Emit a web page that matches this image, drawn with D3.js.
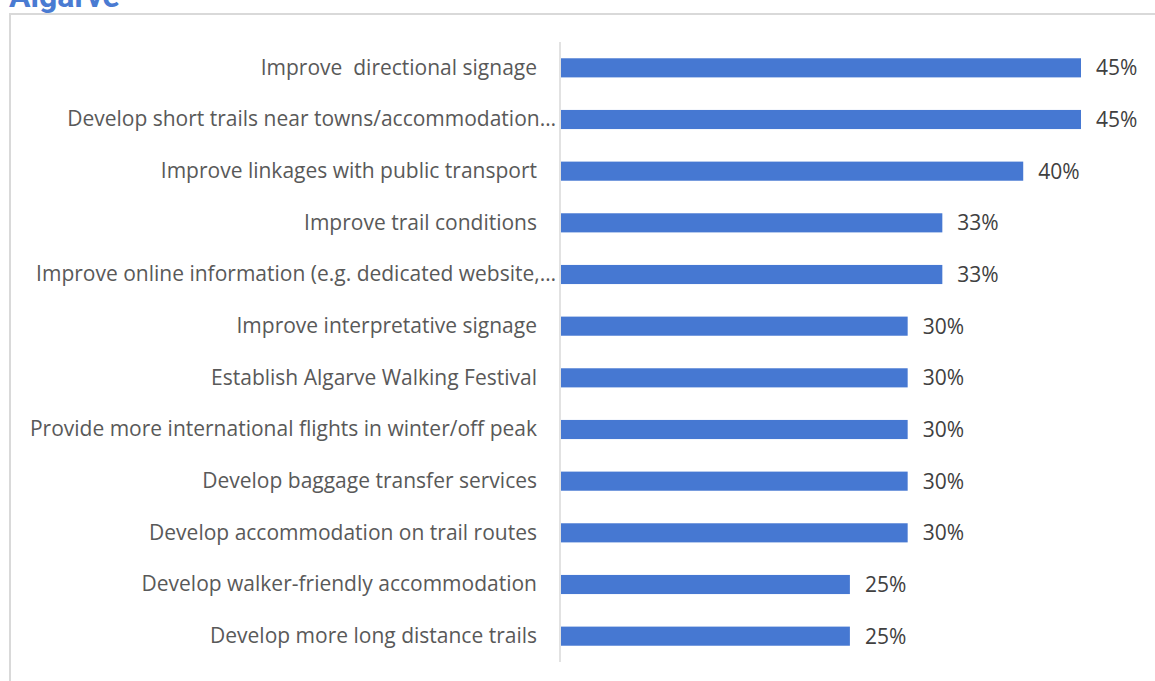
<!DOCTYPE html>
<html>
<head>
<meta charset="utf-8">
<script src="https://cdn.jsdelivr.net/npm/d3@7/dist/d3.min.js"></script>
<style>
  html, body { margin: 0; padding: 0; background: #ffffff; }
  svg { display: block; }
  text { white-space: pre; }
</style>
</head>
<body>
<svg id="chart" width="1155" height="681"></svg>
<script>
// Survey actions for walking tourism in the Algarve (share of respondents, %)
const categories = [
  "Improve  directional signage",
  "Develop short trails near towns/accommodation…",
  "Improve linkages with public transport",
  "Improve trail conditions",
  "Improve online information (e.g. dedicated website,…",
  "Improve interpretative signage",
  "Establish Algarve Walking Festival",
  "Provide more international flights in winter/off peak",
  "Develop baggage transfer services",
  "Develop accommodation on trail routes",
  "Develop walker-friendly accommodation",
  "Develop more long distance trails"
];
const values = [45, 45, 40, 33, 33, 30, 30, 30, 30, 30, 25, 25];
const valueLabels = values.map(v => v + "%");
const title = "Algarve";

const svg = d3.select("#chart");
const W = 1155, H = 681;

// panel frame (continues past the right and bottom edges)
svg.append("rect")
  .attr("x", 10).attr("y", 14)
  .attr("width", W + 20).attr("height", H + 20)
  .attr("fill", "none")
  .attr("stroke", "#d9d9d9")
  .attr("stroke-width", 2);

// heading, partly above the top edge
svg.append("text")
  .attr("x", 9).attr("y", 7)
  .attr("font-family", "Roboto, 'Open Sans', sans-serif")
  .attr("font-weight", 700)
  .attr("font-size", 32)
  .attr("fill", "#4a7bd2")
  .text(title);

const x = d3.scaleLinear().domain([0, 45]).range([561, 1081]);
const y = d3.scaleBand().domain(categories).range([42, 662]).paddingInner(0.63).paddingOuter(0.315);

const font = "'Open Sans', 'Noto Sans', sans-serif";
const fontSize = 21;

// bars
svg.append("g").selectAll("rect")
  .data(categories)
  .join("rect")
  .attr("x", x(0))
  .attr("y", d => y(d))
  .attr("width", (d, i) => x(values[i]) - x(0))
  .attr("height", y.bandwidth())
  .attr("fill", "#4678d2");

// category axis
const yAxis = d3.axisLeft(y).tickSize(0).tickPadding(23);
const gy = svg.append("g").attr("transform", "translate(560,0)").call(yAxis);
gy.select(".domain").attr("stroke", "#d9d9d9").attr("stroke-width", 1.5)
  .attr("d", "M0,42V662");
gy.selectAll(".tick text")
  .attr("font-family", font)
  .attr("font-size", fontSize)
  .attr("fill", "#595959")
  // truncated labels run on closer to the axis
  .attr("dx", d => d.endsWith("…") ? 19 : 0);

// value labels
svg.append("g").selectAll("text")
  .data(categories)
  .join("text")
  .attr("x", (d, i) => x(values[i]) + 15)
  .attr("y", d => y(d) + y.bandwidth() / 2)
  .attr("dy", "0.35em")
  .attr("font-family", font)
  .attr("font-size", fontSize)
  .attr("fill", "#404040")
  .text((d, i) => valueLabels[i]);
</script>
</body>
</html>
